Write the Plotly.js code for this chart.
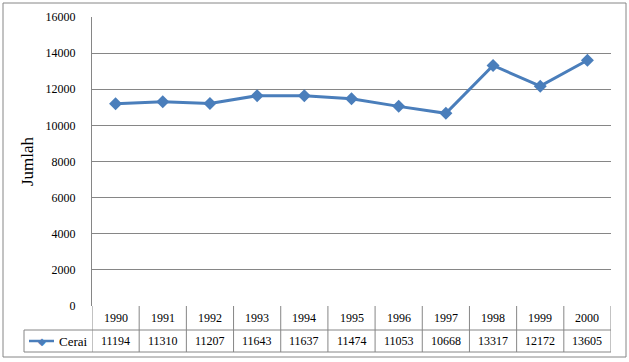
<!DOCTYPE html>
<html>
<head>
<meta charset="utf-8">
<script src="https://cdn.plot.ly/plotly-3.0.1.min.js"></script>
<style>html,body{margin:0;padding:0;background:#fff;} #chart{width:629px;height:362px;}</style>
</head>
<body>
<div id="chart"></div>
<script>
var years = ["1990","1991","1992","1993","1994","1995","1996","1997","1998","1999","2000"];
var cerai = [11194, 11310, 11207, 11643, 11637, 11474, 11053, 10668, 13317, 12172, 13605];
var seriesName = "Cerai";
var yTitle = "Jumlah";

var W = 629, H = 362;
var L = 92, R = 611, T = 17, B = 306;
function px(x){ return (x - L) / (R - L); }
function py(y){ return (B - y) / (B - T); }

var FONT = "'Liberation Serif', 'DejaVu Serif', serif";
var GRID = "#868686";
var BLUE = "#4A7EBB";

var shapes = [];
var annotations = [];
function line(x0, y0, x1, y1, xref){
  shapes.push({type:"line", xref: xref || "paper", yref:"paper", x0:x0, y0:y0, x1:x1, y1:y1,
    line:{color:GRID, width:1}, layer:"above"});
}
// outer border
shapes.push({type:"rect", xref:"paper", yref:"paper", x0:px(3), y0:py(3), x1:px(626), y1:py(357),
  line:{color:GRID, width:1}, fillcolor:"rgba(0,0,0,0)", layer:"below"});

// data table
var rowTop = 306, rowMid = 330, rowBot = 352;
for (var i = 0; i <= years.length; i++) {
  line(i - 0.5, py(rowTop), i - 0.5, py(rowBot), "x");
}
line(-0.5, py(rowMid), years.length - 0.5, py(rowMid), "x");
line(px(24), py(rowBot), px(R), py(rowBot));
line(px(24), py(rowMid), px(L), py(rowMid));
line(px(24), py(rowMid), px(24), py(rowBot));

for (var j = 0; j < years.length; j++) {
  annotations.push({xref:"x", yref:"paper", x:j, y:py((rowTop+rowMid)/2), text:years[j],
    showarrow:false, font:{family:FONT, size:12, color:"#000"}, xanchor:"center", yanchor:"middle"});
  annotations.push({xref:"x", yref:"paper", x:j, y:py((rowMid+rowBot)/2), text:String(cerai[j]),
    showarrow:false, font:{family:FONT, size:12, color:"#000"}, xanchor:"center", yanchor:"middle"});
}
// legend key inside the table
shapes.push({type:"line", xref:"paper", yref:"paper", x0:px(29), x1:px(54), y0:py(341), y1:py(341),
  line:{color:BLUE, width:2.5}, layer:"above"});
annotations.push({xref:"paper", yref:"paper", x:px(41.5), y:py(341), text:"◆", showarrow:false,
  font:{family:"DejaVu Sans", size:10, color:BLUE}, xanchor:"center", yanchor:"middle"});
annotations.push({xref:"paper", yref:"paper", x:px(57), y:py(341), text:seriesName, showarrow:false,
  font:{family:FONT, size:13, color:"#000"}, xanchor:"left", yanchor:"middle"});

var trace = {
  x: years, y: cerai, type:"scatter", mode:"lines+markers", name: seriesName,
  line:{color:BLUE, width:3}, marker:{symbol:"diamond", size:10, color:BLUE},
  showlegend:false, cliponaxis:false
};

var layout = {
  width:W, height:H,
  margin:{l:L, r:W-R, t:T, b:H-B, pad:0},
  paper_bgcolor:"#fff", plot_bgcolor:"#fff",
  font:{family:FONT, size:12, color:"#000"},
  showlegend:false,
  xaxis:{type:"category", range:[-0.5, years.length-0.5], showticklabels:false, showgrid:false,
    zeroline:false, showline:false, ticks:"", fixedrange:true},
  yaxis:{range:[0,16000], dtick:2000, tick0:0, tickformat:"d", showgrid:true, gridcolor:GRID, gridwidth:1,
    zeroline:false, showline:true, linecolor:GRID, linewidth:1, ticks:"", ticklabelstandoff:13,
    tickfont:{family:FONT, size:12, color:"#000"},
    title:{text:yTitle, font:{family:FONT, size:17, color:"#000"}, standoff:7}, automargin:false},
  shapes:shapes, annotations:annotations
};
Plotly.newPlot("chart", [trace], layout, {displayModeBar:false, staticPlot:true});
</script>
</body>
</html>
